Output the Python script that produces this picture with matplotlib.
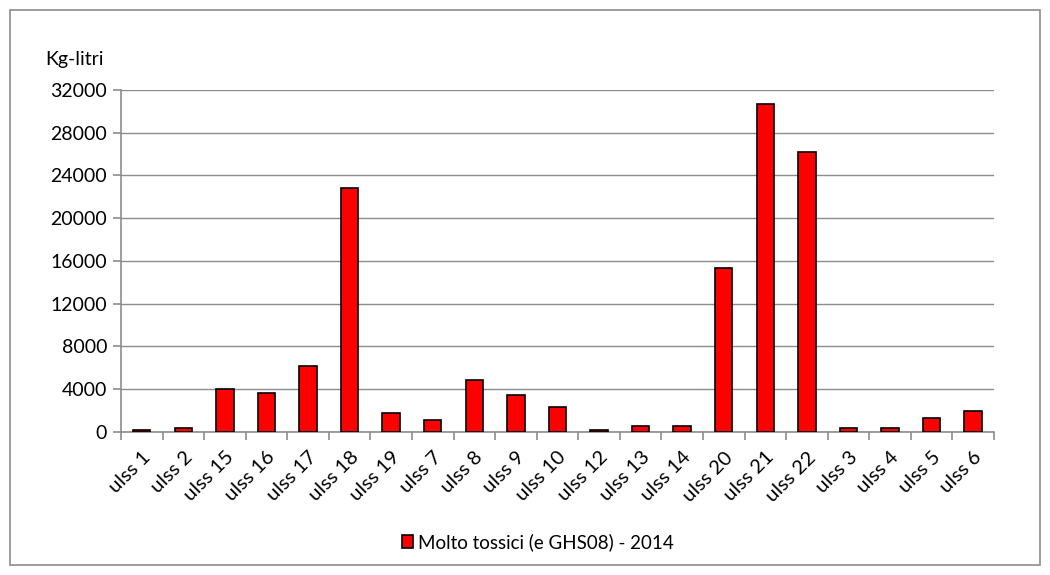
import matplotlib
matplotlib.use("Agg")
from matplotlib import pyplot as plt
from matplotlib.patches import Rectangle
import numpy as np

# data
categories = ["ulss 1", "ulss 2", "ulss 15", "ulss 16", "ulss 17", "ulss 18", "ulss 19",
              "ulss 7", "ulss 8", "ulss 9", "ulss 10", "ulss 12", "ulss 13", "ulss 14",
              "ulss 20", "ulss 21", "ulss 22", "ulss 3", "ulss 4", "ulss 5", "ulss 6"]
values = [200, 350, 4000, 3620, 6170, 22800, 1800,
          1080, 4850, 3460, 2380, 190, 570, 570,
          15300, 30650, 26200, 380, 380, 1270, 2000]
series_name = "Molto tossici (e GHS08) - 2014"
yticks = [0, 4000, 8000, 12000, 16000, 20000, 24000, 28000, 32000]

plt.rcParams['font.family'] = ['Lato', 'DejaVu Sans']

fig = plt.figure(figsize=(10.5, 5.75), dpi=100)
ax = fig.add_axes([0.1152, 0.2487, 0.8314, 0.5948])

x = np.arange(len(categories))
ax.bar(x, values, width=0.42, color="#ff0000", edgecolor="black", linewidth=1.2,
       label=series_name, zorder=3)

ax.set_xlim(-0.5, len(categories) - 0.5)
ax.set_ylim(0, 32000)
ax.set_yticks(yticks)
ax.set_yticklabels([str(v) for v in yticks], fontsize=14)
ax.yaxis.grid(True, color="#8c8c8c", linewidth=1, zorder=0)

# category labels rotated, ticks on category boundaries
ax.set_xticks(x)
ax.set_xticklabels(categories, rotation=45, ha="right", rotation_mode="anchor", fontsize=14.5)
ax.tick_params(axis="x", which="major", length=0, pad=12)
ax.set_xticks(np.arange(-0.5, len(categories)), minor=True)
ax.tick_params(axis="x", which="minor", length=6, color="#8c8c8c", width=1.2)
ax.tick_params(axis="y", length=6, color="#8c8c8c", width=1.2, pad=4)

for s in ["top", "right"]:
    ax.spines[s].set_visible(False)
for s in ["left", "bottom"]:
    ax.spines[s].set_color("#8c8c8c")
    ax.spines[s].set_linewidth(1.2)

fig.text(45 / 1050, 1 - 60 / 575, "Kg-litri", fontsize=14, va="center", ha="left")

leg = fig.legend(loc="center", bbox_to_anchor=(538 / 1050, 1 - 542 / 575), frameon=False,
                 fontsize=13.5, handlelength=0.6, handleheight=0.7, handletextpad=0.25)

# outer chart border
fig.patches.append(Rectangle((10 / 1050, 10 / 575), 1030 / 1050, 555 / 575,
                             transform=fig.transFigure, fill=False,
                             edgecolor="#8c8c8c", linewidth=1.2))

fig.savefig("out.png", dpi=100)
